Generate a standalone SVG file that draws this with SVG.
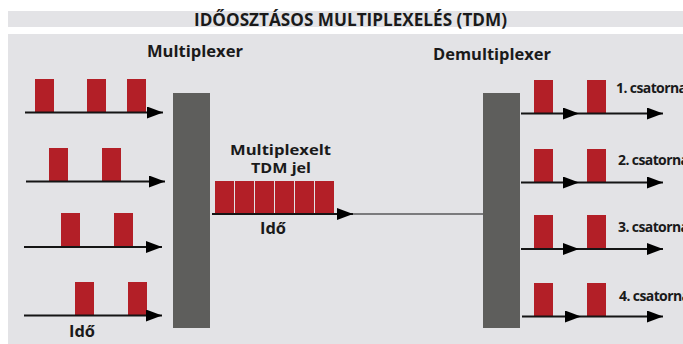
<svg xmlns="http://www.w3.org/2000/svg" width="683" height="344" viewBox="0 0 683 344">
<defs>
<style>
.bg{fill:#e3e3e6}
.pulse{fill:#b31f27}
.box{fill:#5e5e5c}
.ax{stroke:#151515;stroke-width:2;fill:none}
.thin{stroke:#151515;stroke-width:1.2;fill:none}
text{font-family:"Open Sans","Liberation Sans",Arial,sans-serif;font-weight:bold;fill:#1a1a1a}
.h{font-size:16px}
.s{font-size:15px}
.t{font-size:17px}
.ch{font-size:14px;letter-spacing:-0.6px}
</style>
<marker id="ah" markerUnits="userSpaceOnUse" markerWidth="17" markerHeight="12" refX="16" refY="6" orient="auto">
<path d="M0,0 L16,6 L0,12 Z" fill="#000"/>
</marker>
</defs>
<rect width="683" height="344" fill="#ffffff"/>
<rect class="bg" x="8" y="11" width="675" height="16"/>
<rect class="bg" x="8" y="34" width="675" height="310"/>
<text class="t" x="194" y="26" textLength="313" lengthAdjust="spacingAndGlyphs">IDŐOSZTÁSOS MULTIPLEXELÉS (TDM)</text>

<g id="multiplexer">
<rect class="box" x="173" y="93" width="37" height="235"/>
<text class="h" x="147" y="57" textLength="96" lengthAdjust="spacingAndGlyphs">Multiplexer</text>
</g>
<g id="demultiplexer">
<rect class="box" x="483" y="93" width="37" height="235"/>
<text class="h" x="433" y="60" textLength="118" lengthAdjust="spacingAndGlyphs">Demultiplexer</text>
</g>

<g id="input1">
<rect class="pulse" x="35" y="79" width="19" height="33"/>
<rect class="pulse" x="87" y="79" width="19" height="33"/>
<rect class="pulse" x="127" y="79" width="19" height="33"/>
</g>
<g id="input2">
<rect class="pulse" x="49" y="148" width="19" height="33"/>
<rect class="pulse" x="102" y="148" width="19" height="33"/>
</g>
<g id="input3">
<rect class="pulse" x="61" y="213" width="19" height="33"/>
<rect class="pulse" x="114" y="213" width="19" height="33"/>
</g>
<g id="input4">
<rect class="pulse" x="75" y="282" width="19" height="33"/>
<rect class="pulse" x="128" y="282" width="19" height="33"/>
<text class="h" x="69" y="337" textLength="26" lengthAdjust="spacingAndGlyphs">Idő</text>
</g>

<g id="tdm-signal">
<rect class="pulse" x="215" y="181" width="19" height="32"/>
<rect class="pulse" x="235" y="181" width="19" height="32"/>
<rect class="pulse" x="255" y="181" width="19" height="32"/>
<rect class="pulse" x="275" y="181" width="19" height="32"/>
<rect class="pulse" x="295" y="181" width="19" height="32"/>
<rect class="pulse" x="315" y="181" width="19" height="32"/>
<text class="s" x="230" y="155" textLength="101" lengthAdjust="spacingAndGlyphs">Multiplexelt</text>
<text class="s" x="251" y="173" textLength="60" lengthAdjust="spacingAndGlyphs">TDM jel</text>
<text class="h" x="260" y="234" textLength="26" lengthAdjust="spacingAndGlyphs">Idő</text>
</g>

<g id="output1">
<rect class="pulse" x="534" y="80" width="19" height="33"/>
<rect class="pulse" x="587" y="80" width="19" height="33"/>
<text class="ch" x="616" y="93">1. csatorna</text>
</g>
<g id="output2">
<rect class="pulse" x="534" y="149" width="19" height="33"/>
<rect class="pulse" x="587" y="149" width="19" height="33"/>
<text class="ch" x="618" y="165">2. csatorna</text>
</g>
<g id="output3">
<rect class="pulse" x="534" y="215" width="19" height="33"/>
<rect class="pulse" x="587" y="215" width="19" height="33"/>
<text class="ch" x="618" y="232">3. csatorna</text>
</g>
<g id="output4">
<rect class="pulse" x="534" y="283" width="19" height="33"/>
<rect class="pulse" x="587" y="283" width="19" height="33"/>
<text class="ch" x="619" y="301">4. csatorna</text>
</g>

<g id="connectors">
<line class="ax" x1="25" y1="112.5" x2="163" y2="112.5" marker-end="url(#ah)"/>
<line class="ax" x1="26" y1="181.5" x2="165" y2="181.5" marker-end="url(#ah)"/>
<line class="ax" x1="24" y1="247" x2="162" y2="247" marker-end="url(#ah)"/>
<line class="ax" x1="24" y1="315.5" x2="162" y2="315.5" marker-end="url(#ah)"/>
<line class="ax" x1="212" y1="214" x2="353" y2="214" marker-end="url(#ah)"/>
<line class="thin" x1="353" y1="214" x2="483" y2="214"/>
<line class="ax" x1="521" y1="113.5" x2="579" y2="113.5" marker-end="url(#ah)"/>
<line class="ax" x1="579" y1="113.5" x2="663" y2="113.5" marker-end="url(#ah)"/>
<line class="ax" x1="521" y1="182.5" x2="579" y2="182.5" marker-end="url(#ah)"/>
<line class="ax" x1="579" y1="182.5" x2="663" y2="182.5" marker-end="url(#ah)"/>
<line class="ax" x1="521" y1="249" x2="579" y2="249" marker-end="url(#ah)"/>
<line class="ax" x1="579" y1="249" x2="663" y2="249" marker-end="url(#ah)"/>
<line class="ax" x1="522" y1="316.5" x2="581" y2="316.5" marker-end="url(#ah)"/>
<line class="ax" x1="581" y1="316.5" x2="663" y2="316.5" marker-end="url(#ah)"/>
</g>
</svg>
